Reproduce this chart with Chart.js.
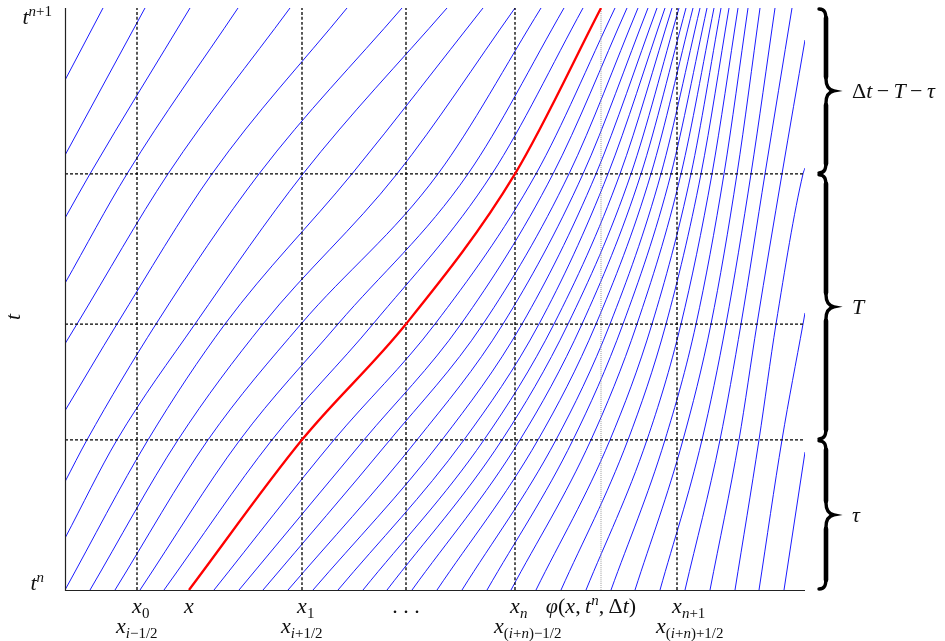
<!DOCTYPE html>
<html>
<head>
<meta charset="utf-8">
<script src="https://cdn.jsdelivr.net/npm/chart.js@4"></script>
<style>
  html, body { margin: 0; padding: 0; background: #fff; }
</style>
</head>
<body>
<canvas id="myChart" width="945" height="641"></canvas>
<script>
// time levels of one step: t^n = 0, tau, tau+T, dt-..., t^{n+1} = 1
const levelT = [0, 0.258, 0.457, 0.715, 1];
const stageT = [0.258, 0.457, 0.715];
const xMax = 74;

// cell lines x0, x1, dots, xn, xn+1 and the foot phi(x, t^n, dt)
const gridX = [7.2, 23.7, 34.1, 45.0, 61.2];
const footX = 53.6;

// traced characteristic, x at each level
const redX = [12.4, 23.7, 34.1, 45.0, 53.6];

// characteristics leaving t^n (x at each level, null once out of the box)
const startX = [0, 2.5, 5.0, 7.5, 9.9, 14.9, 17.4, 19.8, 22.3, 24.8, 27.3, 29.8, 32.2, 34.7, 37.2,
  39.7, 42.2, 44.6, 47.1, 49.6, 52.1, 54.6, 57.0, 59.5, 62.0, 64.5, 67.0, 69.4, 71.9];
const xTau = [8.3, 11.3, 14.3, 17.5, 20.7, 26.9, 29.9, 32.5, 35.2, 37.7, 39.9, 41.9, 43.7, 45.5, 47.3,
  49.1, 50.8, 52.6, 54.5, 56.3, 58.2, 60.0, 61.8, 63.7, 65.5, 67.4, 69.4, 71.7, null];
const xTauT = [16.0, 19.8, 23.6, 27.3, 30.8, 37.0, 39.6, 41.8, 43.8, 45.7, 47.4, 48.9, 50.3, 51.7, 53.1,
  54.5, 55.8, 57.2, 58.7, 60.1, 61.6, 63.1, 64.6, 66.1, 67.6, 69.2, 71.1, 73.8, null];
const xDt = [28.7, 33.2, 37.3, 40.3, 42.7, 47.1, 48.8, 50.4, 51.8, 53.1, 54.3, 55.5, 56.6, 57.6, 58.6,
  59.6, 60.6, 61.6, 62.6, 63.6, 64.7, 65.9, 67.2, 68.6, 70.0, 71.7, 73.8, null, null];
const xTop = [41.8, 45.0, 47.6, 49.9, 51.8, 55.0, 56.2, 57.3, 58.3, 59.2, 60.0, 60.7, 61.4, 62.1, 62.8,
  63.5, 64.2, 64.9, 65.6, 66.4, 67.3, 68.3, 69.5, 71.0, 72.7, null, null, null, null];
const exitT = [null, null, null, null, null, null, null, null, null, null, null, null, null, null, null,
  null, null, null, null, null, null, null, null, null, null, 0.945, 0.725, 0.476, 0.237];

// characteristics coming in through the left boundary
const inflowT = [0.089, 0.186, 0.308, 0.423, 0.527, 0.639, 0.747, 0.876];
const inTau = [5.2, 2.2, null, null, null, null, null, null];
const inTauT = [13.0, 9.1, 5.2, 1.2, null, null, null, null];
const inDt = [23.8, 19.4, 14.7, 10.3, 6.2, 2.5, null, null];
const inTop = [38.2, 33.7, 28.2, 22.5, 17.3, 12.5, 8.0, 3.8];

// tick labels (TeX-like: _{..} subscript, ^{..} superscript)
const tickRow1 = ['x_{0}', 'x', 'x_{1}', '. . .', 'x_{n}', 'φ(x,\u2009t^{n},\u2009Δt)', 'x_{n+1}'];
const tickRow1At = [gridX[0], redX[0], gridX[1], gridX[2], gridX[3], footX, gridX[4]];
const tickRow2 = ['x_{i−1/2}', 'x_{i+1/2}', 'x_{(i+n)−1/2}', 'x_{(i+n)+1/2}'];
const tickRow2At = [gridX[0], gridX[1], gridX[3], gridX[4]];
const braceLabels = ['Δt\u2009−\u2009T\u2009−\u2009τ', 'T', 'τ'];

function curveFromBottom(i) {
  const pts = [{x: startX[i], y: 0}];
  [xTau, xTauT, xDt, xTop].forEach((row, j) => {
    if (row[i] !== null) pts.push({x: row[i], y: levelT[j + 1]});
  });
  if (exitT[i] !== null) pts.push({x: xMax, y: exitT[i]});
  return pts;
}

function curveFromLeft(j) {
  const pts = [{x: 0, y: inflowT[j]}];
  [inTau, inTauT, inDt, inTop].forEach((row, k) => {
    if (row[j] !== null) pts.push({x: row[j], y: levelT[k + 1]});
  });
  return pts;
}

function lineSet(data, color, width, dash) {
  return {
    data: data,
    showLine: true,
    borderColor: color,
    borderWidth: width,
    borderDash: dash || [],
    pointRadius: 0,
    fill: false,
    cubicInterpolationMode: 'monotone',
  };
}

const datasets = [];
datasets.push(lineSet(redX.map((x, k) => ({x: x, y: levelT[k]})), '#ff0000', 2.3));
gridX.forEach(gx => datasets.push(lineSet([{x: gx, y: 0}, {x: gx, y: 1}], '#000', 1.3, [3, 2])));
stageT.forEach(t => datasets.push(lineSet([{x: 0, y: t}, {x: xMax, y: t}], '#000', 1.3, [3, 2])));
datasets.push(lineSet([{x: footX, y: 0}, {x: footX, y: 1}], '#9a9a9a', 1, [1, 1]));
startX.forEach((_, i) => datasets.push(lineSet(curveFromBottom(i), '#0000ff', 0.9)));
inflowT.forEach((_, j) => datasets.push(lineSet(curveFromLeft(j), '#0000ff', 0.9)));

// small TeX-ish text drawing
const FONT = '"Liberation Serif", "DejaVu Serif", serif';
const BASE = 22, SCRIPT = 15;

function parseTex(s) {
  const out = [];
  let lvl = 0;
  for (let k = 0; k < s.length; k++) {
    const c = s[k];
    if (c === '_' || c === '^') { lvl = c === '_' ? 1 : -1; k++; continue; }
    if (c === '}') { lvl = 0; continue; }
    out.push({t: c, it: /[A-Za-zα-ω]/.test(c), lvl: lvl});
  }
  return out;
}

function fontOf(p) {
  return (p.it ? 'italic ' : '') + (p.lvl ? SCRIPT : BASE) + 'px ' + FONT;
}

function widthOf(ctx, parts) {
  let w = 0;
  parts.forEach(p => { ctx.font = fontOf(p); w += ctx.measureText(p.t).width; });
  return w;
}

function drawTex(ctx, s, x, y, align) {
  const parts = parseTex(s);
  let cx = x;
  if (align === 'center') cx = x - widthOf(ctx, parts) / 2;
  if (align === 'right') cx = x - widthOf(ctx, parts);
  if (align === 'head') cx = x - widthOf(ctx, parts.slice(0, 1)) / 2;
  parts.forEach(p => {
    ctx.font = fontOf(p);
    const dy = p.lvl === 1 ? 5 : p.lvl === -1 ? -8 : 0;
    ctx.fillText(p.t, cx, y + dy);
    cx += ctx.measureText(p.t).width;
  });
}

function drawBrace(ctx, x, y0, y1) {
  const ym = (y0 + y1) / 2;
  ctx.lineWidth = 3.4;
  ctx.beginPath();
  ctx.moveTo(x - 7, y0);
  ctx.bezierCurveTo(x - 1, y0, x, y0 + 4, x, y0 + 12);
  ctx.lineTo(x, ym - 12);
  ctx.bezierCurveTo(x, ym - 4, x + 3, ym - 1, x + 8, ym);
  ctx.bezierCurveTo(x + 3, ym + 1, x, ym + 4, x, ym + 12);
  ctx.lineTo(x, y1 - 12);
  ctx.bezierCurveTo(x, y1 - 4, x - 1, y1, x - 7, y1);
  ctx.stroke();
  // heavier stems
  ctx.lineWidth = 4.6;
  ctx.beginPath();
  ctx.moveTo(x, y0 + 9);
  ctx.lineTo(x, ym - 14);
  ctx.moveTo(x, ym + 14);
  ctx.lineTo(x, y1 - 9);
  ctx.stroke();
}

const overlay = {
  id: 'overlay',
  afterDraw(chart) {
    const {ctx, chartArea: a} = chart;
    const sx = chart.scales.x, sy = chart.scales.y;
    ctx.save();

    // axis lines
    ctx.strokeStyle = '#222';
    ctx.lineWidth = 1.2;
    ctx.setLineDash([]);
    ctx.beginPath();
    ctx.moveTo(a.left + 0.5, a.top);
    ctx.lineTo(a.left + 0.5, a.bottom + 0.5);
    ctx.lineTo(a.right, a.bottom + 0.5);
    ctx.stroke();

    ctx.fillStyle = '#111';
    ctx.textBaseline = 'alphabetic';

    // bottom tick labels
    tickRow1.forEach((s, k) => {
      let px = sx.getPixelForValue(tickRow1At[k]);
      if (tickRow1At[k] === footX) px -= 10;
      drawTex(ctx, s, px, a.bottom + 23, s[0] === 'x' ? 'head' : 'center');
    });
    tickRow2.forEach((s, k) => {
      const px = sx.getPixelForValue(tickRow2At[k]);
      drawTex(ctx, s, px - 21, a.bottom + 43, 'left');
    });

    // left tick labels and axis title
    drawTex(ctx, 't^{n}', a.left - 21, sy.getPixelForValue(0), 'right');
    drawTex(ctx, 't^{n+1}', a.left - 13, sy.getPixelForValue(1) + 16, 'right');
    ctx.save();
    ctx.translate(a.left - 45, (a.top + a.bottom) / 2 + 18);
    ctx.rotate(-Math.PI / 2);
    drawTex(ctx, 't', 0, 0, 'center');
    ctx.restore();

    // braces for the three sub-steps
    const edges = [1].concat(stageT.slice().reverse()).concat([0]);
    const bounds = [[edges[0], edges[1]], [edges[1], edges[3]], [edges[3], edges[4]]];
    ctx.strokeStyle = '#000';
    ctx.lineCap = 'round';
    bounds.forEach((b, k) => {
      const y0 = sy.getPixelForValue(b[0]) + 1;
      const y1 = sy.getPixelForValue(b[1]) - 1;
      drawBrace(ctx, a.right + 21, y0, y1);
      drawTex(ctx, braceLabels[k], a.right + 47, (y0 + y1) / 2 + 7, 'left');
    });
    ctx.restore();
  }
};

const config = {
  type: 'scatter',
  data: { datasets: datasets },
  options: {
    responsive: false,
    devicePixelRatio: 1,
    animation: false,
    events: [],
    layout: { padding: { left: 65, right: 140, top: 8, bottom: 51 } },
    scales: {
      x: { type: 'linear', min: 0, max: xMax, display: false },
      y: { type: 'linear', min: 0, max: 1, display: false },
    },
    plugins: {
      legend: { display: false },
      tooltip: { enabled: false },
    },
  },
  plugins: [overlay],
};

const myChart = new Chart(document.getElementById('myChart'), config);
</script>
</body>
</html>
